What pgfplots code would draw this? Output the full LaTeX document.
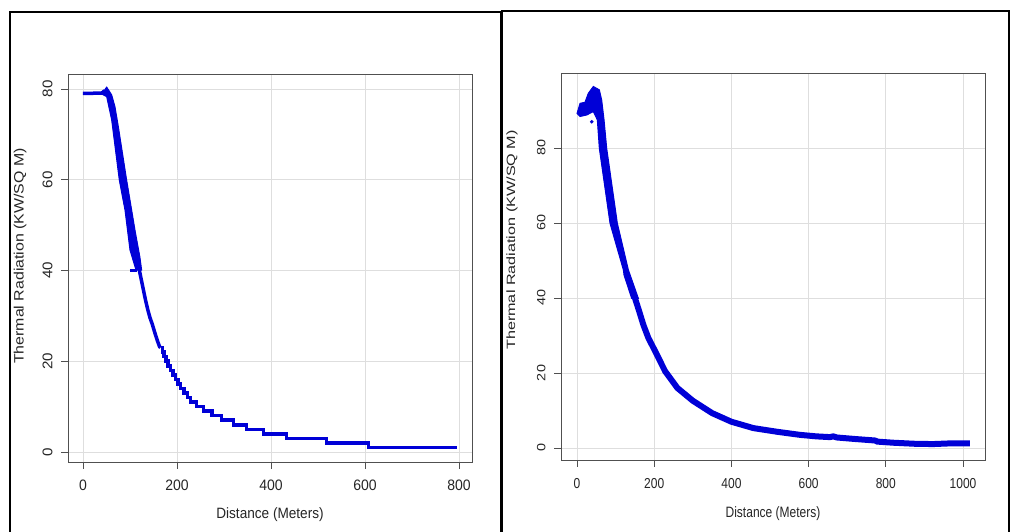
\documentclass[border=0pt]{standalone}
\usepackage{graphicx}
\usepackage{pgfplots}
\pgfplotsset{compat=1.18}
\usepackage{fontspec}
\setmainfont{Liberation Sans}
\definecolor{cblue}{RGB}{0,0,215}
\definecolor{gridc}{RGB}{222,222,222}
\definecolor{axc}{RGB}{80,80,80}
\pgfplotsset{rstyle/.style={
  scale only axis,
  axis line style={axc, line width=0.9bp},
  every tick/.style={axc, line width=0.9bp},
  major tick length=7bp,
  tick align=outside,
  xtick pos=bottom, ytick pos=left,
  grid=major,
  grid style={gridc, line width=0.8bp},
  /pgf/number format/assume math mode=true,
  /pgf/number format/1000 sep={},
  clip=false,
}}
\begin{document}
\begin{tikzpicture}[x=1bp,y=1bp]
\useasboundingbox (0,0) rectangle (1012,532);
\fill[white] (0,0) rectangle (1012,532);
% panel frames
\draw[black, line width=2bp] (10,-5) -- (10,520) -- (501,520) -- (501,-5);
\draw[black, line width=2bp] (502,-5) -- (502,521) -- (1009,521) -- (1009,-5);

% ---------------- left panel ----------------
\begin{axis}[rstyle,
  at={(68bp,70bp)}, anchor=south west,
  width=404bp, height=388bp,
  xmin=-31.9, xmax=827.7, ymin=-2.2, ymax=83.3,
  xtick={0,200,400,600,800}, ytick={0,20,40,60,80},
  tick label style={font=\fontsize{14bp}{16bp}\selectfont, text=black!85},
  xticklabel={\scalebox{1}[1.08]{\pgfmathprintnumber{\tick}}},
  yticklabel={\scalebox{1.08}[1]{\pgfmathprintnumber{\tick}}},
  xticklabel style={yshift=-7bp},
  yticklabel style={xshift=-5bp, rotate=90, anchor=south},
  xlabel={\scalebox{1}[1.1]{Distance (Meters)}},
  ylabel={\scalebox{1.17}[1]{Thermal Radiation (KW/SQ M)}},
  label style={font=\fontsize{13.6bp}{16bp}\selectfont, text=black!85},
  xlabel style={at={(axis description cs:0.5,-0.1366)}, anchor=center},
  ylabel style={at={(axis description cs:-0.1188,0.531)}, anchor=center},
]
% initial flat part
\addplot[cblue, line width=3.5bp] coordinates {(0,79.05) (20,79.05) (40,79.1) (46,79.6)};
% thick noisy band
\addplot[cblue, fill=cblue, line width=1bp] coordinates {
 (39.7,78.9) (50.4,80.4) (61,78.7) (68,76.1) (75.2,71.7) (92.9,59.9) (110.6,48.9) (121,43) (124.8,40.1)
 (112.8,40.1) (100,44.5) (89.4,53.3) (77.3,59.9) (61,73.2) (50.4,78.3) (39.7,78.9)} -- cycle;
% short horizontal segment at 40
\addplot[cblue, line width=3bp] coordinates {(100,40.1) (115.6,40.1)};
% smooth decay
\addplot[cblue, line width=3.5bp] coordinates {
 (119,40.5) (123,38.5) (127,36.5) (133,33.5) (138,31.3) (142.5,29.6) (147.3,28.2)
 (152.5,26.4) (158.4,24.5) (163,23.2) (165,23)};
% stepped decay
\addplot[cblue, line width=3.5bp, const plot] coordinates {
 (165,23) (168.7,22) (172.5,21) (176.7,20) (181.2,19) (186,18) (191,17) (197,16) (202,15)
 (207,14) (215,13) (222,12) (229,11) (242,10) (256,9) (274,8) (295,7) (320,6) (348,5)
 (384,4) (433,3) (518,2) (607,1) (795,1)};
\end{axis}

% ---------------- right panel ----------------
\begin{axis}[rstyle,
  at={(561bp,72bp)}, anchor=south west,
  width=424bp, height=387bp,
  xmin=-41.5, xmax=1057, ymin=-3.2, ymax=100,
  xtick={0,200,400,600,800,1000}, ytick={0,20,40,60,80},
  tick label style={font=\fontsize{12bp}{14bp}\selectfont, text=black!85},
  xticklabel={\scalebox{1}[1.2]{\pgfmathprintnumber{\tick}}},
  yticklabel={\scalebox{1.2}[1]{\pgfmathprintnumber{\tick}}},
  xticklabel style={yshift=-8bp},
  yticklabel style={xshift=-5bp, rotate=90, anchor=south},
  xlabel={\scalebox{1}[1.25]{Distance (Meters)}},
  ylabel={\scalebox{1.35}[1]{Thermal Radiation (KW/SQ M)}},
  label style={font=\fontsize{12bp}{14bp}\selectfont, text=black!85},
  xlabel style={at={(axis description cs:0.5,-0.1395)}, anchor=center},
  ylabel style={at={(axis description cs:-0.1156,0.5685)}, anchor=center},
]
% top blob and thick band
\addplot[cblue, fill=cblue, line width=1bp] coordinates {
 (0,89.2) (7.8,91.9) (20.7,92.2) (29.3,94.6) (42.3,96.4) (57.8,95.5) (63.9,92.8) (70,87.5)
 (76.9,79.9) (104.5,59.9) (133,47.5) (158.9,39.9)
 (141.6,39.9) (121.8,46.1) (120,47.5) (85.5,59.9) (57.8,79.9) (52.6,87.5) (42.3,89.7)
 (25,88.8) (7.8,88.4) (0,89.2)} -- cycle;
\addplot[cblue, only marks, mark=*, mark size=1.6bp] coordinates {(38,87)};
% decay
\addplot[cblue, line width=6bp] coordinates {
 (150,40) (160,36.8) (172,32.8) (185,29.3) (204,25.5) (228,20.5) (260,16) (300,12.6)
 (350,9.3) (400,7.0) (457,5.3) (520,4.3) (578,3.5) (620,3.1) (655,2.9) (664,3.1) (673,2.8)
 (720,2.4) (772,2.0) (778,1.7) (820,1.4) (880,1.1) (923,1.05) (960,1.2) (1018,1.25)};
\end{axis}
\end{tikzpicture}
\end{document}
